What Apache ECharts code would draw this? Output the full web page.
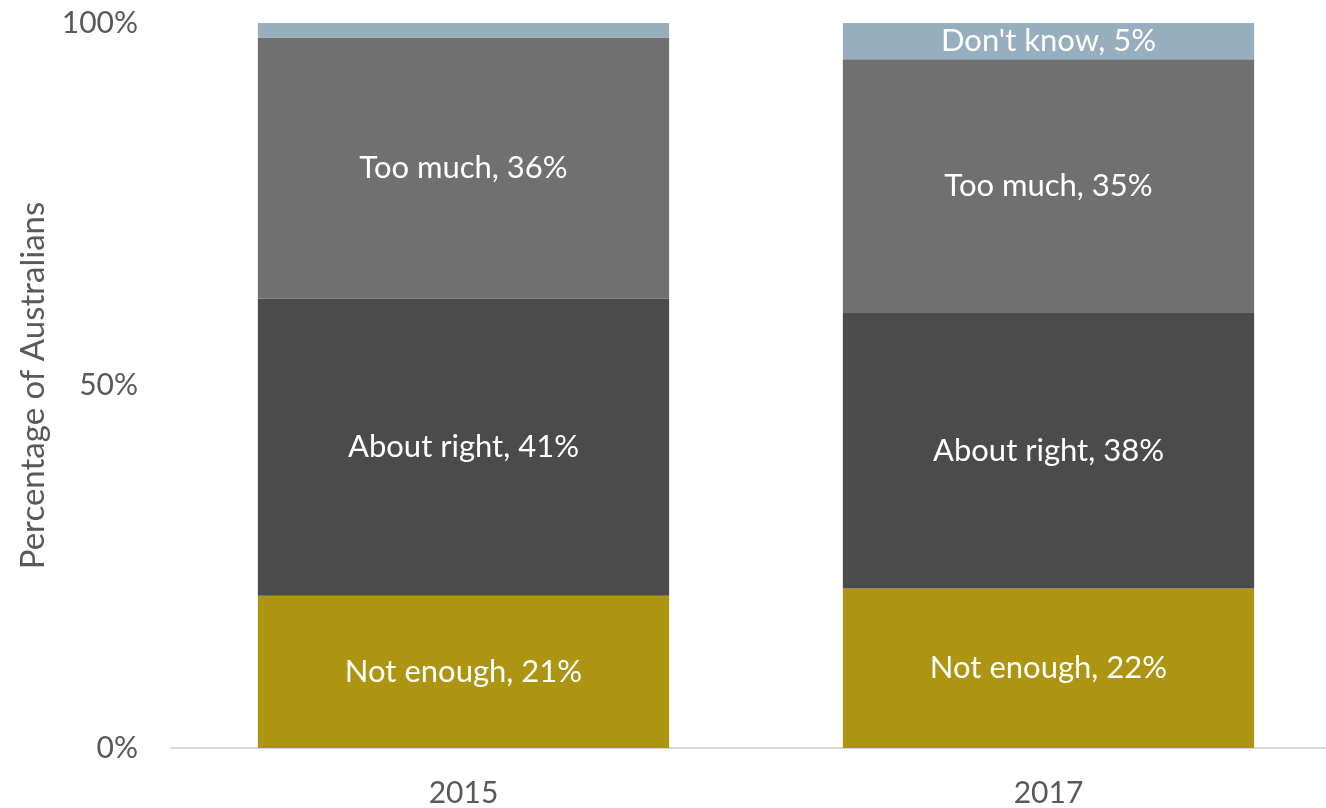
<!DOCTYPE html>
<html><head><meta charset="utf-8">
<script src="https://cdn.jsdelivr.net/npm/echarts@6/dist/echarts.min.js"></script>
<style>html,body{margin:0;padding:0;background:#fff;overflow:hidden}#c{width:1360px;height:808px}</style>
</head><body><div id="c"></div>
<script>
const categories = ['2015', '2017'];
const notEnough = [21, 22];
const aboutRight = [41, 38];
const tooMuch = [36, 35];
const dontKnow = [2, 5];
const seriesNames = ['Not enough', 'About right', 'Too much', "Don't know"];
const yTicks = [0, 50, 100];

const colors = ['#AD9511', '#4B4B4B', '#707070', '#97AEBE'];
const FONT = 'Lato, "Open Sans", sans-serif';
const chart = echarts.init(document.getElementById('c'), null, {renderer: 'canvas'});
const datasets = [notEnough, aboutRight, tooMuch, dontKnow];
const series = datasets.map((d, i) => ({
  name: seriesNames[i],
  type: 'bar',
  stack: 'total',
  barWidth: '70.3%',
  data: d,
  itemStyle: {color: colors[i]},
  label: {
    show: true,
    position: 'inside',
    color: '#fff',
    fontSize: 31,
    fontFamily: FONT,
    formatter: p => (i === 3 && p.value < 3) ? '' : seriesNames[i] + ', ' + p.value + '%'
  }
}));
chart.setOption({
  animation: false,
  grid: {left: 171, right: 19, top: 23, bottom: 57},
  xAxis: {
    type: 'category', data: categories,
    axisLine: {lineStyle: {color: '#D9D9D9', width: 2}},
    axisTick: {show: false},
    axisLabel: {color: '#595959', fontSize: 30, fontFamily: FONT, margin: 30}
  },
  yAxis: {
    type: 'value', min: 0, max: 100, interval: 50,
    name: 'Percentage of Australians', nameLocation: 'middle', nameGap: 121,
    nameTextStyle: {color: '#595959', fontSize: 33, fontFamily: FONT},
    splitLine: {show: false},
    axisLine: {show: false}, axisTick: {show: false},
    axisLabel: {color: '#595959', fontSize: 30, fontFamily: FONT, margin: 33, formatter: v => yTicks.includes(v) ? v + '%' : ''}
  },
  series
});
</script></body></html>
